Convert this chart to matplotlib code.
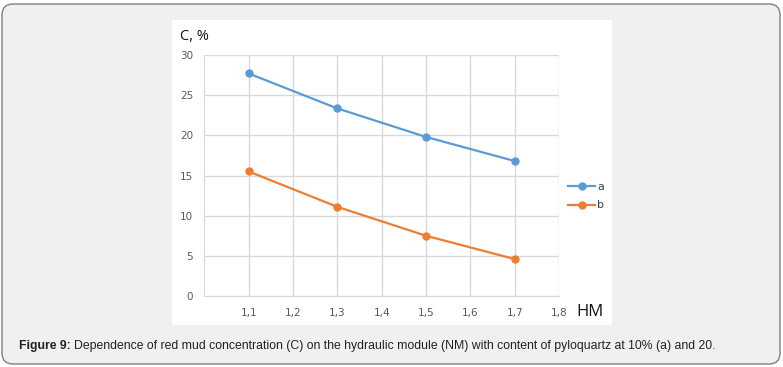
import matplotlib
matplotlib.use("Agg")
import matplotlib.pyplot as plt
from matplotlib.patches import FancyBboxPatch, Rectangle

hm = [1.1, 1.3, 1.5, 1.7]
series_a = [27.7, 23.35, 19.8, 16.8]
series_b = [15.5, 11.1, 7.5, 4.6]
xticks = [1.1, 1.2, 1.3, 1.4, 1.5, 1.6, 1.7, 1.8]
xticklabels = ["1,1", "1,2", "1,3", "1,4", "1,5", "1,6", "1,7", "1,8"]
yticks = [0, 5, 10, 15, 20, 25, 30]

W, H = 783, 367
fig = plt.figure(figsize=(W / 100, H / 100), dpi=100)
fig.patch.set_facecolor("white")

box = FancyBboxPatch((2 / W, 3 / H), 778 / W, 360 / H,
                     boxstyle="round,pad=0,rounding_size=0.014",
                     transform=fig.transFigure, facecolor="#f0f0f0",
                     edgecolor="#7f7f7f", linewidth=1.0, mutation_aspect=W / H,
                     zorder=-3)
fig.patches.append(box)
panel = Rectangle((172 / W, 1 - 325 / H), 440 / W, 305 / H,
                  transform=fig.transFigure, facecolor="white", edgecolor="none",
                  zorder=-2)
fig.patches.append(panel)

ax = fig.add_axes([204.3 / W, 1 - 296 / H, (559 - 204.3) / W, (296 - 55) / H])
ax.set_zorder(2)
ax.set_facecolor("white")
ax.set_xlim(1.0, 1.8)
ax.set_ylim(0, 30)
ax.set_xticks(xticks)
ax.set_xticklabels(xticklabels)
ax.set_yticks(yticks)
ax.grid(True, color="#d9d9d9", linewidth=1.0)
ax.set_axisbelow(True)
for s in ["top", "right"]:
    ax.spines[s].set_visible(False)
ax.spines["left"].set_color("#d9d9d9")
ax.spines["bottom"].set_color("#d9d9d9")
ax.tick_params(length=0, labelsize=7.5, colors="#595959", pad=8.5)
ax.tick_params(axis="y", pad=8)

blue = "#5b9bd5"
orange = "#ed7d31"
la, = ax.plot(hm, series_a, color=blue, lw=1.6, marker="o", ms=5, label="a", clip_on=False)
lb, = ax.plot(hm, series_b, color=orange, lw=1.6, marker="o", ms=5, label="b", clip_on=False)

ax.legend(handles=[la, lb], loc="center left", bbox_to_anchor=(1.011, 0.415),
          frameon=False, fontsize=8, handlelength=2.4, handletextpad=0.2,
          labelspacing=0.8, borderpad=0, labelcolor="#404040")

fig.text(180 / W, 1 - 36 / H, "C, %", fontsize=10.5, color="#111111", va="center", ha="left",
         family=["Open Sans", "DejaVu Sans"])
fig.text(576 / W, 1 - 312 / H, "HM", fontsize=12, color="#111111", va="center", ha="left",
         family=["Open Sans", "DejaVu Sans"])

cap_family = ["Liberation Sans", "DejaVu Sans"]
cap_size = 8.8
cap_y = 1 - 346 / H
t1 = fig.text(19 / W, cap_y, "Figure 9:", fontsize=cap_size, fontweight="bold", color="#222222",
              va="center", ha="left", family=cap_family)
fig.canvas.draw()
bb = t1.get_window_extent()
fig.text(bb.x1 / W + 3 / W, cap_y,
         "Dependence of red mud concentration (C) on the hydraulic module (NM) with content of pyloquartz at 10% (a) and 20.",
         fontsize=cap_size, color="#222222", va="center", ha="left", family=cap_family)

fig.savefig("out.png", dpi=100)
